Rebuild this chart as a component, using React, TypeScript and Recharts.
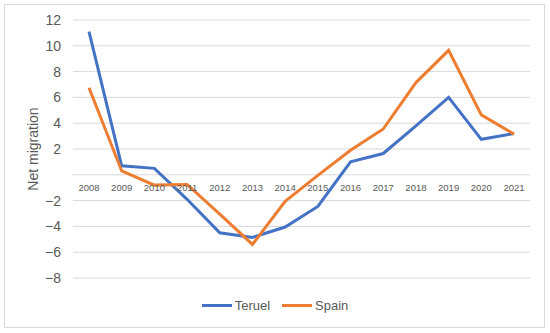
import React from 'react';
import { LineChart, Line, XAxis, YAxis, CartesianGrid } from 'recharts';

const years = ['2008', '2009', '2010', '2011', '2012', '2013', '2014', '2015', '2016', '2017', '2018', '2019', '2020', '2021'];
const teruel = [11.1, 0.7, 0.5, -1.9, -4.5, -4.85, -4.05, -2.45, 1.0, 1.65, 3.8, 6.0, 2.75, 3.2];
const spain = [6.75, 0.3, -0.8, -0.75, -3.05, -5.4, -2.05, -0.05, 1.9, 3.55, 7.15, 9.65, 4.65, 3.15];
const yTicks = [-8, -6, -4, -2, 0, 2, 4, 6, 8, 10, 12];
const seriesNames = ['Teruel', 'Spain'];
const colors = ['#4472C4', '#ED7D31'];

const data = years.map((y, i) => ({ year: y, teruel: teruel[i], spain: spain[i] }));

const W = 550;
const H = 333;
const M = { top: 20, right: 20, bottom: 25, left: 0 };
const X_H = 30;
const Y_MIN = -8;
const Y_MAX = 12;
const plotH = H - M.top - M.bottom - X_H;
const zeroShift = (plotH * (0 - Y_MIN)) / (Y_MAX - Y_MIN);
const FONT = '"Liberation Sans", Arial, sans-serif';
const TXT = '#595959';

const XTick = (props: any) => {
  const { x, y, payload } = props;
  return (
    <text x={x} y={y - zeroShift} dy={16.5} textAnchor="middle" fontSize={9.5} fill={TXT} fontFamily={FONT}>
      {payload.value}
    </text>
  );
};

const YLabel = (props: any) => {
  const vb = props.viewBox || {};
  const cx = (vb.x || 0) + 33;
  const cy = (vb.y || 0) + (vb.height || 0) / 2;
  return (
    <text x={cx} y={cy} transform={`rotate(-90 ${cx} ${cy})`} textAnchor="middle" dominantBaseline="central" fontSize={14} fill={TXT} fontFamily={FONT}>
      Net migration
    </text>
  );
};

export default function App() {
  return (
    <div style={{ position: 'absolute', left: 0, top: 0, width: W, height: H, background: '#fff' }}>
      <div style={{ position: 'absolute', left: 4, top: 4, width: 541, height: 324, border: '1px solid #D9D9D9', boxSizing: 'border-box' }} />
      <LineChart width={W} height={H} data={data} margin={M}>
        <CartesianGrid vertical={false} stroke="#D9D9D9" strokeWidth={1} />
        <XAxis
          dataKey="year"
          height={X_H}
          axisLine={false}
          tickLine={false}
          tickSize={0}
          tickMargin={0}
          padding={{ left: 16, right: 16 }}
          tick={<XTick />}
          interval={0}
        />
        <YAxis
          width={73}
          domain={[Y_MIN, Y_MAX]}
          ticks={yTicks}
          axisLine={false}
          tickLine={false}
          tickSize={0}
          tickMargin={12}
          interval={0}
          tick={{ fill: TXT, fontSize: 14, fontFamily: FONT }}
          tickFormatter={(v: number) => (v === 0 ? '' : String(v).replace('-', '\u2212'))}
          label={<YLabel />}
        />
        <Line type="linear" dataKey="teruel" name={seriesNames[0]} stroke={colors[0]} strokeWidth={3} dot={false} isAnimationActive={false} />
        <Line type="linear" dataKey="spain" name={seriesNames[1]} stroke={colors[1]} strokeWidth={3} dot={false} isAnimationActive={false} />
      </LineChart>
      <div style={{ position: 'absolute', left: 0, top: 298, width: W, display: 'flex', justifyContent: 'center', alignItems: 'center', fontFamily: FONT, fontSize: 13, color: TXT }}>
        {seriesNames.map((n, i) => (
          <div key={n} style={{ display: 'flex', alignItems: 'center', marginLeft: i === 0 ? 0 : 12 }}>
            <div style={{ width: 30, height: 3, background: colors[i], marginRight: 3 }} />
            <span>{n}</span>
          </div>
        ))}
      </div>
    </div>
  );
}
